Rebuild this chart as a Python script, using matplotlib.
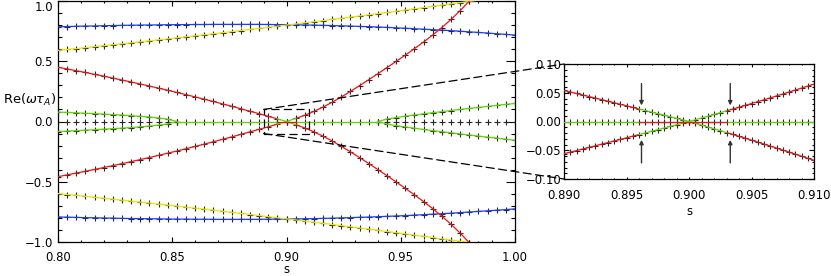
import numpy as np
import matplotlib
matplotlib.use("Agg")
import matplotlib.pyplot as plt
from matplotlib.ticker import MultipleLocator
from matplotlib.patches import ConnectionPatch, Rectangle

plt.rcParams['font.family'] = ['DejaVu Sans']
plt.rcParams['font.size'] = 8.4
plt.rcParams['mathtext.fontset'] = 'dejavusans'

# ---- data ----
# main panel: s grid 0.800 .. 1.000, step 0.004
s = np.linspace(0.8, 1.0, 51)

blue_top = [0.786, 0.788, 0.790, 0.792, 0.793, 0.795, 0.796, 0.798, 0.799, 0.800,
            0.801, 0.802, 0.803, 0.804, 0.804, 0.805, 0.805, 0.806, 0.806, 0.806,
            0.806, 0.806, 0.806, 0.805, 0.804, 0.804, 0.802, 0.801, 0.800, 0.798,
            0.796, 0.794, 0.792, 0.789, 0.787, 0.784, 0.781, 0.777, 0.774, 0.770,
            0.766, 0.762, 0.758, 0.754, 0.749, 0.744, 0.739, 0.734, 0.728, 0.723, 0.717]
blue_bot = [-0.792, -0.794, -0.796, -0.798, -0.799, -0.801, -0.802, -0.804, -0.805, -0.806,
            -0.807, -0.808, -0.809, -0.810, -0.810, -0.811, -0.811, -0.812, -0.812, -0.812,
            -0.812, -0.812, -0.812, -0.811, -0.810, -0.810, -0.808, -0.807, -0.806, -0.804,
            -0.802, -0.800, -0.798, -0.795, -0.793, -0.790, -0.787, -0.784, -0.781, -0.777,
            -0.773, -0.769, -0.765, -0.761, -0.756, -0.751, -0.746, -0.741, -0.736, -0.731, -0.725]
yellow_top = [0.590, 0.598, 0.605, 0.613, 0.621, 0.629, 0.637, 0.645, 0.653, 0.661,
              0.669, 0.678, 0.686, 0.694, 0.703, 0.711, 0.720, 0.728, 0.737, 0.746,
              0.755, 0.764, 0.773, 0.782, 0.791, 0.800, 0.809, 0.819, 0.828, 0.837,
              0.847, 0.856, 0.866, 0.876, 0.885, 0.895, 0.905, 0.915, 0.925, 0.935,
              0.945, 0.955, 0.966, 0.976, 0.986, 0.997, 1.007, 1.018, 1.029, 1.039, 1.050]
yellow_bot = [-0.598, -0.606, -0.613, -0.621, -0.629, -0.637, -0.645, -0.653, -0.661, -0.669,
              -0.677, -0.686, -0.694, -0.702, -0.711, -0.719, -0.728, -0.736, -0.745, -0.754,
              -0.763, -0.772, -0.781, -0.790, -0.799, -0.808, -0.817, -0.827, -0.836, -0.845,
              -0.855, -0.864, -0.874, -0.884, -0.893, -0.903, -0.913, -0.923, -0.933, -0.943,
              -0.953, -0.963, -0.974, -0.984, -0.994, -1.005, -1.015, -1.026, -1.037, -1.047, -1.058]
red_up = [-0.458, -0.443, -0.428, -0.413, -0.398, -0.382, -0.366, -0.350, -0.333, -0.316,
          -0.299, -0.281, -0.263, -0.245, -0.226, -0.207, -0.188, -0.168, -0.148, -0.128,
          -0.107, -0.086, -0.065, -0.044, -0.022, 0.0, 0.025, 0.052, 0.084, 0.120,
          0.160, 0.204, 0.250, 0.298, 0.347, 0.397, 0.448, 0.499, 0.551, 0.605,
          0.660, 0.718, 0.780, 0.847, 0.920, 1.000, 1.089, 1.187, 1.294, 1.410, 1.534]
red_dn = [0.450, 0.436, 0.421, 0.407, 0.391, 0.376, 0.360, 0.344, 0.328, 0.311,
          0.294, 0.277, 0.259, 0.241, 0.223, 0.204, 0.185, 0.166, 0.146, 0.126,
          0.106, 0.085, 0.065, 0.043, 0.022, 0.0, -0.026, -0.054, -0.086, -0.122,
          -0.162, -0.206, -0.252, -0.300, -0.349, -0.399, -0.450, -0.502, -0.555, -0.609,
          -0.665, -0.723, -0.786, -0.853, -0.926, -1.006, -1.095, -1.194, -1.302, -1.419, -1.544]
zero_mode = [0.0] * 51

# green branch pairs (left: s 0.800..0.852, right: s 0.940..1.000)
s_green_left = s[:14]
green_left_up = [0.078, 0.075, 0.072, 0.068, 0.065, 0.061, 0.057, 0.053, 0.048, 0.043,
                 0.037, 0.029, 0.019, 0.0]
green_left_dn = [-0.083, -0.080, -0.076, -0.072, -0.068, -0.064, -0.059, -0.055, -0.050, -0.044,
                 -0.038, -0.030, -0.020, 0.0]
s_green_right = s[35:]
green_right_up = [0.0, 0.021, 0.033, 0.044, 0.054, 0.064, 0.073, 0.082, 0.091, 0.100,
                  0.108, 0.117, 0.125, 0.134, 0.142, 0.150]
green_right_dn = [0.0, -0.022, -0.034, -0.045, -0.056, -0.066, -0.076, -0.085, -0.094, -0.103,
                  -0.112, -0.121, -0.130, -0.138, -0.147, -0.156]

# zoom panel: s grid 0.890 .. 0.910, step 0.0005
s_zoom = np.linspace(0.89, 0.91, 41)
zoom_dn = [0.0540, 0.0513, 0.0487, 0.0460, 0.0434, 0.0407, 0.0380, 0.0353, 0.0326, 0.0300,
           0.0273, 0.0245, 0.0218, 0.0191, 0.0164, 0.0137, 0.0110, 0.0082, 0.0055, 0.0027,
           0.0,
           -0.0031, -0.0063, -0.0095, -0.0127, -0.0159, -0.0192, -0.0225, -0.0258, -0.0291, -0.0326,
           -0.0359, -0.0393, -0.0427, -0.0463, -0.0497, -0.0532, -0.0568, -0.0604, -0.0640, -0.0676]
zoom_up = [-0.0560, -0.0534, -0.0506, -0.0478, -0.0451, -0.0423, -0.0395, -0.0367, -0.0339, -0.0312,
           -0.0284, -0.0255, -0.0227, -0.0199, -0.0171, -0.0142, -0.0114, -0.0085, -0.0057, -0.0028,
           0.0,
           0.0030, 0.0061, 0.0091, 0.0122, 0.0153, 0.0185, 0.0216, 0.0248, 0.0280, 0.0313,
           0.0345, 0.0378, 0.0411, 0.0445, 0.0478, 0.0512, 0.0546, 0.0581, 0.0615, 0.0650]
zoom_zero = [0.0] * 41

# s values where the mode colouring switches
switch_main = [0.896, 0.904]
switch_zoom = [0.896, 0.903]
green_zero_main = [0.852, 0.940]
arrow_s = [0.8962, 0.9033]

RED = '#f01414'
GREEN = '#60d800'
BLUE = '#1e3cff'
YELLOW = '#e8e800'
MK = dict(marker='+', ls='none', color='#262626', ms=4.0, mew=0.8, zorder=2)
LW = 0.9


def seg(x, y, lo, hi):
    x = np.asarray(x)
    y = np.asarray(y, dtype=float)
    return np.where((x >= lo - 1e-9) & (x <= hi + 1e-9), y, np.nan)


def crossing(axx, x, up, dn, zero, sw, zlo, zhi):
    lo, hi = sw
    for y in (up, dn):
        axx.plot(x, seg(x, y, x[0], lo), color=RED, lw=LW, zorder=3)
        axx.plot(x, seg(x, y, hi, x[-1]), color=RED, lw=LW, zorder=3)
        axx.plot(x, seg(x, y, lo, hi), color=GREEN, lw=LW, zorder=3)
    axx.plot(x, seg(x, zero, zlo, lo), color=GREEN, lw=LW, zorder=3)
    axx.plot(x, seg(x, zero, hi, zhi), color=GREEN, lw=LW, zorder=3)
    axx.plot(x, seg(x, zero, lo, hi), color=RED, lw=LW, zorder=3)


fig = plt.figure(figsize=(8.31, 2.76), dpi=100)
ax = fig.add_axes([58 / 831, 34 / 276, 457 / 831, 241 / 276])
axi = fig.add_axes([564 / 831, 97 / 276, 250 / 831, 115 / 276])

# ---- main panel ----
for y in (blue_top, blue_bot, yellow_top, yellow_bot, red_up, red_dn, zero_mode):
    ax.plot(s, y, **MK)
for y in (green_left_up, green_left_dn):
    ax.plot(s_green_left, y, **MK)
    ax.plot(s_green_left, y, color=GREEN, lw=LW, zorder=3)
for y in (green_right_up, green_right_dn):
    ax.plot(s_green_right, y, **MK)
    ax.plot(s_green_right, y, color=GREEN, lw=LW, zorder=3)
ax.plot(s, blue_top, color=BLUE, lw=LW, zorder=3)
ax.plot(s, blue_bot, color=BLUE, lw=LW, zorder=3)
ax.plot(s, yellow_top, color=YELLOW, lw=LW, zorder=3)
ax.plot(s, yellow_bot, color=YELLOW, lw=LW, zorder=3)
crossing(ax, s, red_up, red_dn, zero_mode, switch_main, *green_zero_main)

ax.set_xlim(0.8, 1.0)
ax.set_ylim(-1.0, 1.0)
ax.set_xticks([0.80, 0.85, 0.90, 0.95, 1.00])
ax.set_xticklabels(['0.80', '0.85', '0.90', '0.95', '1.00'])
ax.set_yticks([-1.0, -0.5, 0.0, 0.5, 1.0])
ax.set_yticklabels(['\u22121.0', '\u22120.5', '0.0', '0.5', '1.0'])
ax.get_yticklabels()[-1].set_va('top')
ax.xaxis.set_minor_locator(MultipleLocator(0.01))
ax.yaxis.set_minor_locator(MultipleLocator(0.1))
ax.tick_params(which='both', direction='in', top=True, right=True, width=0.8)
ax.tick_params(axis='y', which='major', length=6.5, pad=3.5)
ax.tick_params(axis='y', which='minor', length=3.2)
ax.tick_params(axis='x', which='major', length=3.5, pad=6.3)
ax.tick_params(axis='x', which='minor', length=1.7)
ax.set_xlabel('s', labelpad=-0.6)
ax.set_ylabel(r'Re($\omega\tau_A$)', rotation=0, ha='right', va='center', fontsize=9.4)
ax.yaxis.set_label_coords(-0.004, 0.59)
for sp in ax.spines.values():
    sp.set_linewidth(0.9)

# zoom box and connectors
dash = (0, (6.5, 3.5))
ax.add_patch(Rectangle((0.89, -0.1), 0.02, 0.2, fill=False, ls=dash, lw=0.9,
                       ec='black', zorder=4))
for yc in (0.1, -0.1):
    con = ConnectionPatch(xyA=(0.89, yc), coordsA=ax.transData,
                          xyB=(0.89, yc), coordsB=axi.transData,
                          ls=dash, lw=0.9, color='black', zorder=5)
    fig.add_artist(con)

# ---- zoom panel ----
for y in (zoom_up, zoom_dn, zoom_zero):
    axi.plot(s_zoom, y, **MK)
crossing(axi, s_zoom, zoom_up, zoom_dn, zoom_zero, switch_zoom, 0.89, 0.91)

arr = dict(arrowstyle='-|>', color='#333333', lw=1.0, mutation_scale=6,
           shrinkA=0, shrinkB=0)
for xa in arrow_s:
    axi.annotate('', xy=(xa, 0.028), xytext=(xa, 0.066), arrowprops=arr)
    axi.annotate('', xy=(xa, -0.032), xytext=(xa, -0.072), arrowprops=arr)

axi.set_xlim(0.89, 0.91)
axi.set_ylim(-0.1, 0.1)
axi.set_xticks([0.890, 0.895, 0.900, 0.905, 0.910])
axi.set_xticklabels(['0.890', '0.895', '0.900', '0.905', '0.910'])
axi.set_yticks([-0.10, -0.05, 0.0, 0.05, 0.10])
axi.set_yticklabels(['\u22120.10', '\u22120.05', '0.00', '0.05', '0.10'])
axi.xaxis.set_minor_locator(MultipleLocator(0.001))
axi.yaxis.set_minor_locator(MultipleLocator(0.01))
axi.tick_params(which='both', direction='in', top=True, right=True, width=0.8)
axi.tick_params(axis='y', which='major', length=3.6, pad=2)
axi.tick_params(axis='y', which='minor', length=1.8)
axi.tick_params(axis='x', which='major', length=1.8, pad=7.5)
axi.tick_params(axis='x', which='minor', length=0.9)
axi.set_xlabel('s', labelpad=2)
for sp in axi.spines.values():
    sp.set_linewidth(0.9)

fig.savefig('out.png', dpi=100)
